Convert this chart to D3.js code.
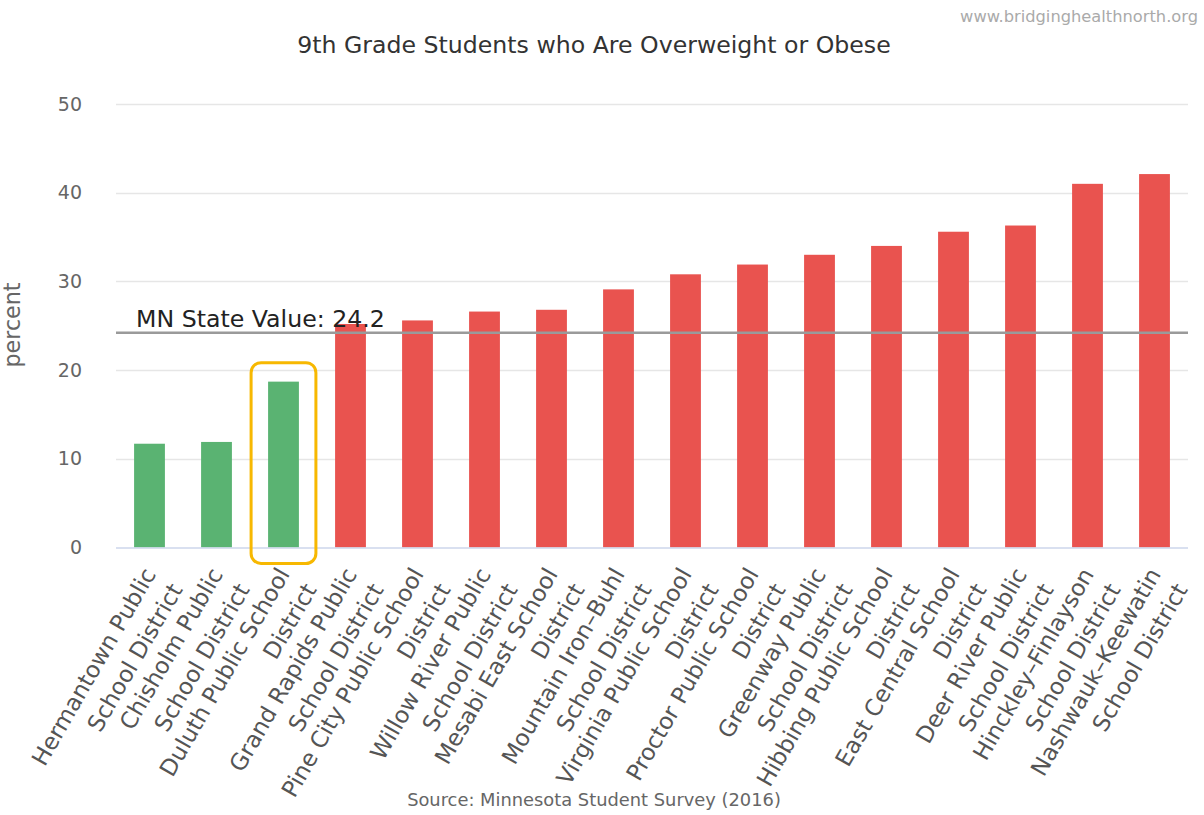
<!DOCTYPE html>
<html>
<head>
<meta charset="utf-8">
<script src="https://cdn.jsdelivr.net/npm/d3@7"></script>
<style>
  html, body { margin: 0; padding: 0; background: #fff; }
  svg { display: block; font-family: "DejaVu Sans", "Open Sans", sans-serif; }
</style>
</head>
<body>
<svg id="chart" width="1204" height="815"></svg>
<script>
// School districts (two-line labels) and the share of 9th graders overweight or obese
const districts = [
  ["Hermantown Public", "School District"],
  ["Chisholm Public", "School District"],
  ["Duluth Public School", "District"],
  ["Grand Rapids Public", "School District"],
  ["Pine City Public School", "District"],
  ["Willow River Public", "School District"],
  ["Mesabi East School", "District"],
  ["Mountain Iron\u2013Buhl", "School District"],
  ["Virginia Public School", "District"],
  ["Proctor Public School", "District"],
  ["Greenway Public", "School District"],
  ["Hibbing Public School", "District"],
  ["East Central School", "District"],
  ["Deer River Public", "School District"],
  ["Hinckley\u2013Finlayson", "School District"],
  ["Nashwauk\u2013Keewatin", "School District"]
];
const percentValues = [11.7, 11.9, 18.7, 25.2, 25.6, 26.6, 26.8, 29.1, 30.8, 31.9, 33.0, 34.0, 35.6, 36.3, 41.0, 42.1];
const yTicks = [0, 10, 20, 30, 40, 50];
const stateValue = 24.2;
const highlighted = "Duluth Public School";

const titleText = "9th Grade Students who Are Overweight or Obese";
const sourceText = "Source: Minnesota Student Survey (2016)";
const siteText = "www.bridginghealthnorth.org";

const svg = d3.select("#chart");
const plot = { left: 116, right: 1188, top: 104, bottom: 547.5 };

// scale a text's font size so the string spans the given width
function fitWidth(sel, width) {
  const base = 20;
  sel.attr("font-size", base);
  const w = sel.node().getComputedTextLength();
  sel.attr("font-size", base * width / w);
  return sel;
}

const keys = districts.map(d => d[0]);
const x = d3.scaleBand().domain(keys).range([plot.left, plot.right])
  .paddingInner(0.54).paddingOuter(0.27);
const y = d3.scaleLinear().domain([0, 50]).range([plot.bottom, plot.top]);

// horizontal grid
svg.append("g").selectAll("line").data(yTicks.filter(t => t > 0)).join("line")
  .attr("x1", plot.left).attr("x2", plot.right)
  .attr("y1", d => Math.round(y(d)) + 0.5).attr("y2", d => Math.round(y(d)) + 0.5)
  .attr("stroke", "#e6e6e6").attr("stroke-width", 1.5);

// y axis labels
const yAxis = svg.append("g").attr("transform", `translate(${plot.left},0)`)
  .call(d3.axisLeft(y).tickValues(yTicks).tickSize(0).tickPadding(34));
yAxis.select(".domain").remove();
yAxis.selectAll("text").attr("font-size", 19).attr("fill", "#666")
  .attr("font-family", "'DejaVu Sans', sans-serif");

// y axis title
fitWidth(svg.append("text")
  .attr("transform", `translate(20,${325}) rotate(-90)`)
  .attr("text-anchor", "middle").attr("fill", "#666")
  .text("percent"), 85);

// bars
const rows = districts.map((d, i) => ({ key: d[0], lines: d, value: percentValues[i] }));
svg.append("g").selectAll("rect").data(rows).join("rect")
  .attr("x", d => x(d.key)).attr("width", x.bandwidth())
  .attr("y", d => y(d.value)).attr("height", d => y(0) - y(d.value))
  .attr("fill", d => d.value < stateValue ? "#5ab372" : "#e9534f");

// x baseline
svg.append("line").attr("x1", plot.left).attr("x2", plot.right)
  .attr("y1", y(0) + 0.5).attr("y2", y(0) + 0.5)
  .attr("stroke", "#ccd6eb").attr("stroke-width", 1.5);

// state reference line and label
svg.append("line").attr("x1", plot.left).attr("x2", plot.right)
  .attr("y1", y(stateValue)).attr("y2", y(stateValue))
  .attr("stroke", "#9a9a9a").attr("stroke-width", 2.5);
fitWidth(svg.append("text").attr("x", plot.left + 20).attr("y", y(stateValue) - 6)
  .attr("fill", "#222")
  .text(`MN State Value: ${stateValue}`), 249);

// highlight box around one district
const hv = percentValues[keys.indexOf(highlighted)];
svg.append("rect")
  .attr("x", x(highlighted) - 17).attr("width", x.bandwidth() + 34)
  .attr("y", y(hv) - 19).attr("height", y(0) - y(hv) + 35)
  .attr("rx", 10).attr("ry", 10)
  .attr("fill", "none").attr("stroke", "#f7b801").attr("stroke-width", 3);

// rotated category labels
const labels = svg.append("g").selectAll("text").data(rows).join("text")
  .attr("transform", d => `translate(${x(d.key) + x.bandwidth() / 2 + 7},574) rotate(-60)`)
  .attr("text-anchor", "end").attr("font-size", 23).attr("fill", "#555");
labels.each(function(d) {
  const t = d3.select(this);
  d.lines.forEach((ln, i) => {
    t.append("tspan").attr("x", 0).attr("y", i * 31).text(ln);
  });
});

// title, site and source
fitWidth(svg.append("text").attr("x", 594).attr("y", 53).attr("text-anchor", "middle")
  .attr("fill", "#333").text(titleText), 594);
fitWidth(svg.append("text").attr("x", 1198).attr("y", 22).attr("text-anchor", "end")
  .attr("fill", "#aaa").text(siteText), 238);
fitWidth(svg.append("text").attr("x", 594).attr("y", 806).attr("text-anchor", "middle")
  .attr("fill", "#666").text(sourceText), 374);
</script>
</body>
</html>
